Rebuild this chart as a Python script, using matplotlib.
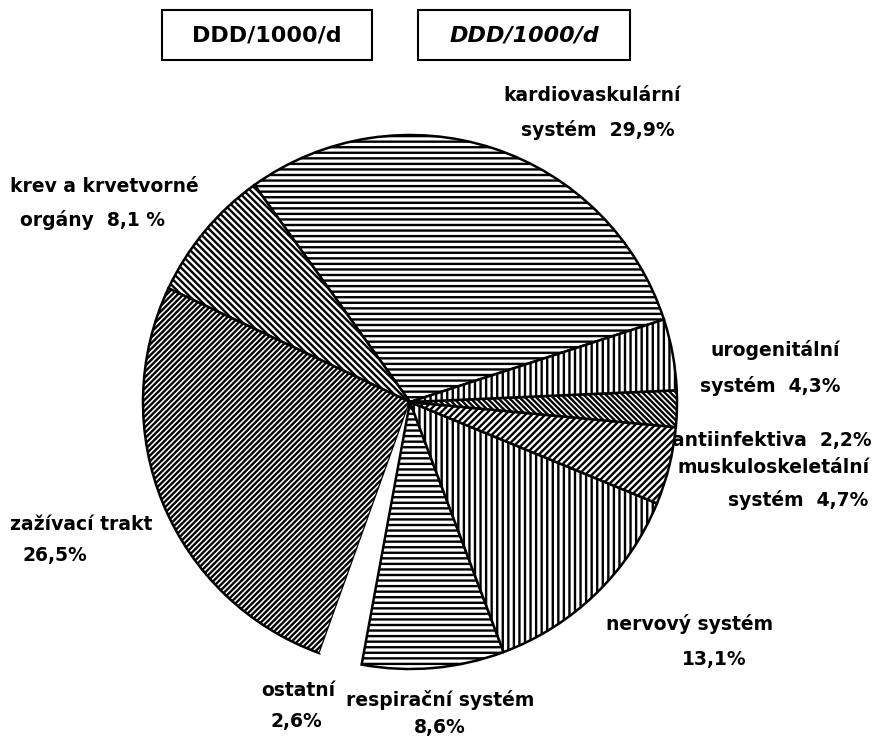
import matplotlib
matplotlib.use("Agg")
import matplotlib.pyplot as plt

# ---- data ----
categories = ["kardiovaskulární systém", "krev a krvetvorné orgány", "zažívací trakt",
              "ostatní", "respirační systém", "nervový systém",
              "muskuloskeletální systém", "antiinfektiva", "urogenitální systém"]
values = [29.9, 8.1, 26.5, 2.6, 8.6, 13.1, 4.7, 2.2, 4.3]
label_lines = [
    ["kardiovaskulární", "systém  29,9%"],
    ["krev a krvetvorné", "orgány  8,1 %"],
    ["zažívací trakt", "26,5%"],
    ["ostatní", "2,6%"],
    ["respirační systém", "8,6%"],
    ["nervový systém", "13,1%"],
    ["muskuloskeletální", "systém  4,7%"],
    ["antiinfektiva  2,2%"],
    ["urogenitální", "systém  4,3%"],
]
title_text = "DDD/1000/d"

hatches = ["---", "\\\\\\\\\\", "//////", "", "---", "|||", "/////", "\\\\\\\\\\\\", "|||"]

plt.rcParams['hatch.linewidth'] = 1.7
plt.rcParams['font.family'] = ['DejaVu Sans']

W, H = 881, 737
fig = plt.figure(figsize=(W / 100, H / 100), dpi=100)
ax = fig.add_axes([0, 0, 1, 1])

cx, cy, r = 410, H - 402, 267
wedges, _ = ax.pie(values, startangle=18, counterclock=True, center=(cx, cy),
                   radius=r, frame=True,
                   wedgeprops=dict(edgecolor='black', linewidth=1.8, facecolor='white'))
for w, h in zip(wedges, hatches):
    w.set_hatch(h)
wedges[3].set_edgecolor('none')
wedges[3].set_hatch(None)
ax.set_xlim(0, W)
ax.set_ylim(0, H)
ax.set_aspect('equal')
ax.axis('off')

fs = 13.5
# label placements (pixel coords, top-origin): list of (x, y, ha) per line
placements = [
    [(592, 95, 'center'), (598, 130, 'center')],
    [(10, 186, 'left'), (20, 220, 'left')],
    [(10, 525, 'left'), (22, 556, 'left')],
    [(298, 690, 'center'), (296, 722, 'center')],
    [(440, 700, 'center'), (440, 728, 'center')],
    [(690, 624, 'center'), (714, 660, 'center')],
    [(870, 467, 'right'), (868, 500, 'right')],
    [(872, 440, 'right')],
    [(840, 350, 'right'), (840, 386, 'right')],
]
for lines, pl in zip(label_lines, placements):
    for txt, (x, y, ha) in zip(lines, pl):
        ax.text(x, H - y, txt, ha=ha, va='center', fontsize=fs, fontweight='bold')

# title boxes
for x0, x1, style in [(162, 372, 'normal'), (418, 630, 'italic')]:
    ax.add_patch(plt.Rectangle((x0, H - 60), x1 - x0, 50, fill=False,
                               edgecolor='black', linewidth=1.5))
    ax.text((x0 + x1) / 2, H - 35, title_text, ha='center', va='center',
            fontsize=16, fontweight='bold', fontstyle=style)

fig.savefig("out.png", dpi=100, facecolor='white')
